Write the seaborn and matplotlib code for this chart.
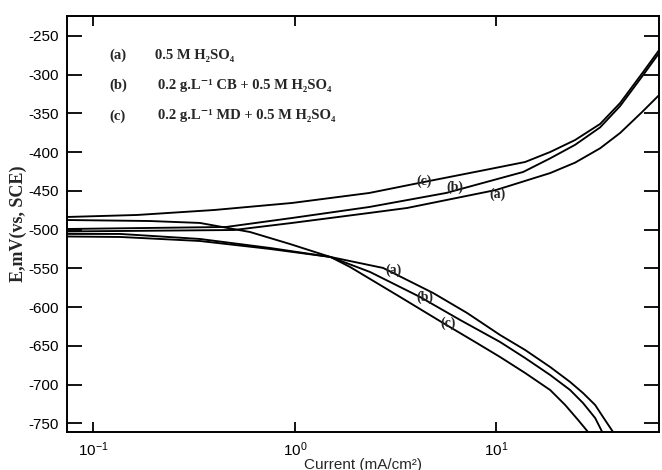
import pandas as pd
import matplotlib
matplotlib.use('Agg')
import matplotlib.pyplot as plt
import seaborn as sns

# --- Data (current in mA/cm2, potential in mV vs SCE) ---
a_anodic_i = [0.074, 0.499, 0.968, 2.34, 3.60, 9.97, 18.48, 24.58, 32.70, 41.11, 52.86, 64.2]
a_anodic_E = [-502.4, -500.5, -491.4, -478.5, -472.1, -448.8, -427.0, -413.5, -395.0, -375.2,
              -348.1, -326.2]
a_cathodic_i = [0.074, 0.136, 0.338, 0.753, 1.50, 2.74, 4.85, 7.15, 10.43, 13.88, 18.48, 23.21,
                26.9, 30.89, 33.8, 37.9]
a_cathodic_E = [-505.6, -505.6, -512.1, -523.7, -535.3, -549.5, -581.8, -607.6, -636.1, -655.4,
                -677.4, -696.7, -711.0, -726.4, -741.9, -761.3]

b_anodic_i = [0.074, 0.456, 0.968, 2.34, 5.63, 13.57, 18.48, 24.58, 32.70, 41.11, 53.47, 64.2]
b_anodic_E = [-499.2, -496.6, -485.0, -470.8, -452.7, -425.6, -408.0, -390.5, -368.0, -340.4,
              -300.4, -271.9]
b_cathodic_i = [0.074, 0.136, 0.338, 0.753, 1.50, 2.36, 4.18, 6.61, 10.43, 13.88, 18.48, 23.21,
                26.9, 30.89, 33.5]
b_cathodic_E = [-508.9, -509.5, -514.7, -525.0, -535.3, -554.7, -587.0, -616.7, -645.1, -665.8,
                -687.7, -707.1, -723.9, -743.2, -761.3]

c_anodic_i = [0.074, 0.165, 0.397, 0.968, 2.34, 4.13, 8.79, 13.88, 18.48, 24.58, 32.70, 41.11,
              53.47, 64.2]
c_anodic_E = [-483.7, -481.1, -474.7, -465.6, -452.7, -439.8, -423.0, -412.7, -399.8, -384.3,
              -363.6, -336.5, -296.5, -268.1]
c_cathodic_i = [0.074, 0.191, 0.338, 0.599, 0.946, 1.50, 1.88, 3.33, 5.44, 7.84, 10.43, 13.88,
                18.48, 21.93, 25.43, 28.48]
c_cathodic_E = [-487.6, -488.9, -491.4, -503.1, -518.6, -535.3, -548.3, -587.0, -620.6, -645.1,
                -664.5, -685.1, -707.1, -726.4, -745.8, -761.3]

legend_tags = ['(a)', '(b)', '(c)']
legend_texts = ['0.5 M H\u2082SO\u2084',
                '0.2 g.L\u207b\u00b9 CB + 0.5 M H\u2082SO\u2084',
                '0.2 g.L\u207b\u00b9 MD + 0.5 M H\u2082SO\u2084']

# curve tags next to the branches: (tag, current, potential)
curve_tags = [('(c)', 4.38, -437.2), ('(b)', 6.24, -445.0), ('(a)', 10.1, -455.0),
              ('(a)', 3.07, -552.1), ('(b)', 4.43, -587.0), ('(c)', 5.76, -620.6)]


def build_frame():
    branches = {
        'a_anodic': (a_anodic_i, a_anodic_E),
        'a_cathodic': (a_cathodic_i, a_cathodic_E),
        'b_anodic': (b_anodic_i, b_anodic_E),
        'b_cathodic': (b_cathodic_i, b_cathodic_E),
        'c_anodic': (c_anodic_i, c_anodic_E),
        'c_cathodic': (c_cathodic_i, c_cathodic_E),
    }
    frames = []
    for name, (cur, pot) in branches.items():
        frames.append(pd.DataFrame({'current': cur, 'potential': pot, 'branch': name}))
    return pd.concat(frames, ignore_index=True)


def main():
    sns.set_style('ticks')
    plt.rcParams['font.family'] = ['Liberation Sans', 'DejaVu Sans']
    plt.rcParams['axes.unicode_minus'] = False
    serif = ['Liberation Serif', 'DejaVu Serif']

    df = build_frame()

    fig = plt.figure(figsize=(6.62, 4.70), dpi=100)
    ax = fig.add_axes([0.1017, 0.0809, 0.8938, 0.8857])

    sns.lineplot(data=df, x='current', y='potential', units='branch', estimator=None,
                 sort=False, color='black', linewidth=1.35, ax=ax)

    ax.set_xscale('log')
    ax.set_xlim(0.0743, 64.1)
    ax.set_ylim(-761.3, -223.8)
    ax.set_yticks(range(-750, -249, 50))
    ax.minorticks_off()

    for side in ['top', 'right', 'left', 'bottom']:
        ax.spines[side].set_visible(True)
        ax.spines[side].set_linewidth(1.4)
        ax.spines[side].set_color('black')

    ax.tick_params(axis='y', which='major', direction='in', length=11, width=1.3,
                   left=True, right=True, labelsize=11, colors='black', pad=6)
    ax.tick_params(axis='x', which='major', direction='in', length=7.5, width=1.3,
                   bottom=True, top=True, labelsize=11, colors='black', pad=6)

    ax.set_xlabel('Current (mA/cm\u00b2)', fontsize=11, labelpad=-1)
    ax.set_ylabel('E,mV(vs, SCE)', fontsize=13, fontweight='bold', family=serif, labelpad=1)

    # legend written as text block inside the axes
    for k, (tag, txt) in enumerate(zip(legend_tags, legend_texts)):
        y = 0.904 - k * 0.0722
        ax.text(0.0715, y, tag, transform=ax.transAxes, family=serif, fontweight='bold',
                fontsize=10.5, va='center', ha='left')
        ax.text(0.148 if k == 0 else 0.153, y, txt, transform=ax.transAxes, family=serif,
                fontweight='bold', fontsize=10.5, va='center', ha='left')

    for tag, cur, pot in curve_tags:
        ax.text(cur, pot, tag, family=serif, fontweight='bold', fontsize=10,
                ha='center', va='center')

    fig.savefig('out.png', dpi=100)
    plt.close(fig)


if __name__ == '__main__':
    main()
